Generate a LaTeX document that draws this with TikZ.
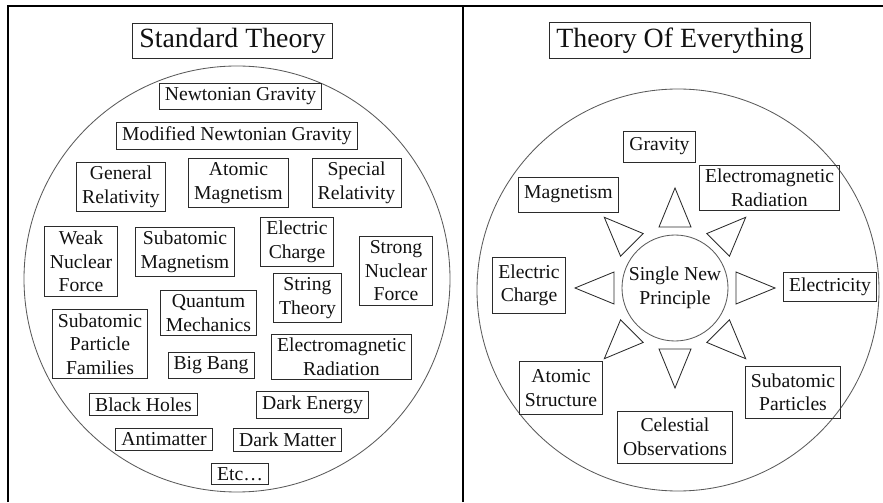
\documentclass[tikz,border=0pt]{standalone}
\usepackage{fontspec}
\setmainfont{Liberation Serif}
\usepackage{xcolor}
\usepackage{tikz}
\usetikzlibrary{positioning}
\definecolor{trazo}{HTML}{2B2B2B}
\definecolor{rueda}{HTML}{5A5A5A}
\definecolor{texto}{HTML}{111111}

\begin{document}
\begin{tikzpicture}[
  font=\fontsize{14}{16.7}\selectfont,
  concepto/.style={draw=trazo, line width=0.6pt, align=center, inner xsep=4pt, inner ysep=3pt, text=texto},
  titulo/.style={concepto, font=\fontsize{19.8}{22}\selectfont, inner xsep=5pt, inner ysep=3.5pt},
  marco/.style={line width=1.5pt, black},
  contorno/.style={draw=rueda, line width=0.6pt},
  pico/.style={draw=trazo, line width=0.6pt}
]
  \useasboundingbox (0,0) rectangle (22.075,12.55);
  % marco
  \draw[marco] (0.2,0) -- (0.2,12.39) -- (22.075,12.39);
  \draw[marco] (11.575,0) -- (11.575,12.39);

  % teoria estandar
  \node[titulo] (st) at (5.8125,11.525) {Standard Theory};
  \draw[contorno] (5.925,5.575) circle (5.325);
  \node[concepto] (ng) at (6.0125,10.1375) {Newtonian Gravity};
  \node[concepto] (mng) at (5.925,9.15) {Modified Newtonian Gravity};
  \node[concepto] (gr) at (3.025,7.875) {General\\Relativity};
  \node[concepto] (am) at (5.9625,7.975) {Atomic\\Magnetism};
  \node[concepto] (sr) at (8.9125,7.975) {Special\\Relativity};
  \node[concepto] (wnf) at (2.025,6.0125) {Weak\\Nuclear\\Force};
  \node[concepto] (sm) at (4.625,6.25) {Subatomic\\Magnetism};
  \node[concepto] (ec) at (7.425,6.5) {Electric\\Charge};
  \node[concepto] (snf) at (9.9,5.775) {Strong\\Nuclear\\Force};
  \node[concepto] (str) at (7.6875,5.1) {String\\Theory};
  \node[concepto] (qm) at (5.2125,4.725) {Quantum\\Mechanics};
  \node[concepto] (spf) at (2.5,3.95) {Subatomic\\Particle\\Families};
  \node[concepto] (emr) at (8.5375,3.625) {Electromagnetic\\Radiation};
  \node[concepto] (bb) at (5.275,3.4125) {Big Bang};
  \node[concepto] (bh) at (3.5875,2.4375) {Black Holes};
  \node[concepto] (de) at (7.8125,2.425) {Dark Energy};
  \node[concepto] (am2) at (4.1,1.5625) {Antimatter};
  \node[concepto] (dm) at (7.1875,1.55) {Dark Matter};
  \node[concepto] (etc) at (6.0,0.7) {Etc\ldots};

  % teoria del todo
  \node[titulo] (toe) at (17.0,11.5375) {Theory Of Everything};
  \draw[contorno] (16.95,5.3) circle (5.025);
  \node[circle, contorno, align=center, minimum size=2.65cm, inner sep=0pt, text=texto] (snp) at (16.875,5.35) {Single New\\Principle};
  \foreach \a in {0,45,...,315}
    \draw[pico, shift={(snp.center)}, rotate=\a] (1.525,0.4) -- (2.5,0) -- (1.525,-0.4) -- cycle;
  \node[concepto, minimum height=22pt] (gv) at (16.4875,8.8875) {Gravity};
  \node[concepto, minimum height=25pt] (mg) at (14.2125,7.6875) {Magnetism};
  \node[concepto] (emr2) at (19.2375,7.85) {Electromagnetic\\Radiation};
  \node[concepto, minimum height=40pt] (ec2) at (13.225,5.4125) {Electric\\Charge};
  \node[concepto, minimum height=21pt] (el) at (20.75,5.375) {Electricity};
  \node[concepto, minimum height=38pt] (as) at (14.025,2.85) {Atomic\\Structure};
  \node[concepto, minimum height=37pt] (co) at (16.875,1.625) {Celestial\\Observations};
  \node[concepto, minimum height=37pt] (sp) at (19.825,2.7375) {Subatomic\\Particles};
\end{tikzpicture}
\end{document}
